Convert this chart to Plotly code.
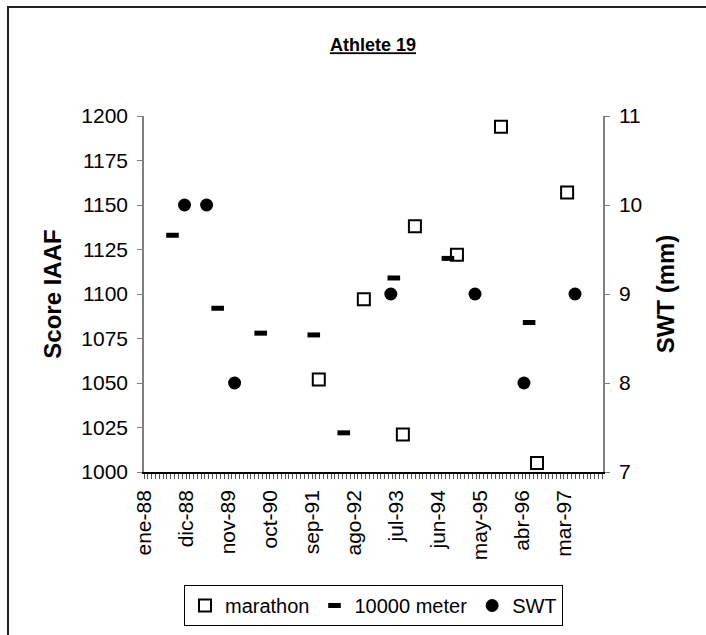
import plotly.graph_objects as go

# ---- data ----
marathon_dates = ["1991-10-25", "1992-10-18", "1993-08-25", "1993-11-29",
                  "1994-10-30", "1995-10-16", "1996-07-29", "1997-03-26"]
marathon_scores = [1052, 1097, 1021, 1138, 1122, 1194, 1005, 1157]

m10000_dates = ["1988-08-15", "1989-08-10", "1990-07-19", "1991-09-15",
                "1992-05-11", "1993-06-14", "1994-08-19", "1996-05-27"]
m10000_scores = [1133, 1092, 1078, 1077, 1022, 1109, 1120, 1084]

swt_dates = ["1988-11-19", "1989-05-14", "1989-12-23", "1993-05-21",
             "1995-03-23", "1996-04-16", "1997-05-28"]
swt_mm = [10, 10, 8, 9, 9, 8, 9]

tick_dates = ["1988-01-01", "1988-12-01", "1989-11-01", "1990-10-01",
              "1991-09-01", "1992-08-01", "1993-07-01", "1994-06-01",
              "1995-05-01", "1996-04-01", "1997-03-01"]
tick_labels = ["ene-88", "dic-88", "nov-89", "oct-90", "sep-91", "ago-92",
               "jul-93", "jun-94", "may-95", "abr-96", "mar-97"]

FONT = "Liberation Sans, Arial, sans-serif"
W, H = 706, 635
L, R, T, B = 144, 103, 116, 163
pw, ph = W - L - R, H - T - B

fig = go.Figure()
fig.add_trace(go.Scatter(
    x=marathon_dates, y=marathon_scores, mode="markers", name="marathon",
    marker=dict(symbol="square-open", size=12, color="black",
                line=dict(width=2, color="black"))))
fig.add_trace(go.Scatter(
    x=m10000_dates, y=m10000_scores, mode="markers", name="10000 meter",
    marker=dict(symbol="line-ew", size=9, color="black",
                line=dict(width=5, color="black"))))
fig.add_trace(go.Scatter(
    x=swt_dates, y=swt_mm, mode="markers", name="SWT", yaxis="y2",
    marker=dict(symbol="circle", size=13, color="black",
                line=dict(width=0))))

# outer chart frame (left and top edges visible, rest outside the view)
fig.add_shape(type="rect", xref="paper", yref="paper",
              x0=(8 - L) / pw, x1=(W + 10 - L) / pw,
              y0=(H - B - (H + 10)) / ph, y1=(H - B - 7) / ph,
              line=dict(color="#222222", width=2), fillcolor="rgba(0,0,0,0)",
              layer="below")

fig.update_layout(
    width=W, height=H,
    margin=dict(l=L, r=R, t=T, b=B, pad=0, autoexpand=False),
    paper_bgcolor="white", plot_bgcolor="white",
    font=dict(family=FONT, size=21, color="black"),
    title=dict(text="<b>Athlete 19</b>", x=(373) / W, xanchor="center",
               y=1 - 45 / H, yanchor="middle",
               font=dict(family=FONT, size=18, color="black",
                         lineposition="under")),
    xaxis=dict(
        type="date", range=["1988-01-01", "1998-01-06"],
        tickmode="array", tickvals=tick_dates, ticktext=tick_labels,
        tickangle=-90, ticks="outside", ticklen=5, tickcolor="#555555",
        ticklabelstandoff=3,
        showline=True, linecolor="black", linewidth=1.5,
        showgrid=False, zeroline=False,
        tickfont=dict(size=21),
        minor=dict(tickmode="linear", tick0="1988-01-01", dtick="M1",
                   ticks="outside", ticklen=5, tickcolor="#555555",
                   showgrid=False)),
    yaxis=dict(
        range=[1000, 1200], dtick=25, ticks="outside", ticklen=5,
        tickcolor="#808080", showline=True, linecolor="#808080", linewidth=1.5,
        ticklabelstandoff=5,
        showgrid=False, zeroline=False, tickfont=dict(size=21),
        title=dict(text="<b>Score IAAF</b>", font=dict(size=24), standoff=13)),
    yaxis2=dict(
        range=[7, 11], dtick=1, overlaying="y", side="right",
        ticks="outside", ticklen=5, tickcolor="#808080",
        showline=True, linecolor="#808080", linewidth=1.5,
        ticklabelstandoff=5,
        showgrid=False, zeroline=False, tickfont=dict(size=21),
        title=dict(text="<b>SWT (mm)</b>", font=dict(size=24), standoff=16)),
    legend=dict(
        orientation="h", x=0.5, xanchor="center",
        y=(H - B - 585) / ph, yanchor="top",
        bordercolor="black", borderwidth=1, bgcolor="white",
        font=dict(size=20), itemwidth=30, tracegroupgap=0,
        itemsizing="trace"),
    showlegend=True,
)

fig.write_html("out.html")
